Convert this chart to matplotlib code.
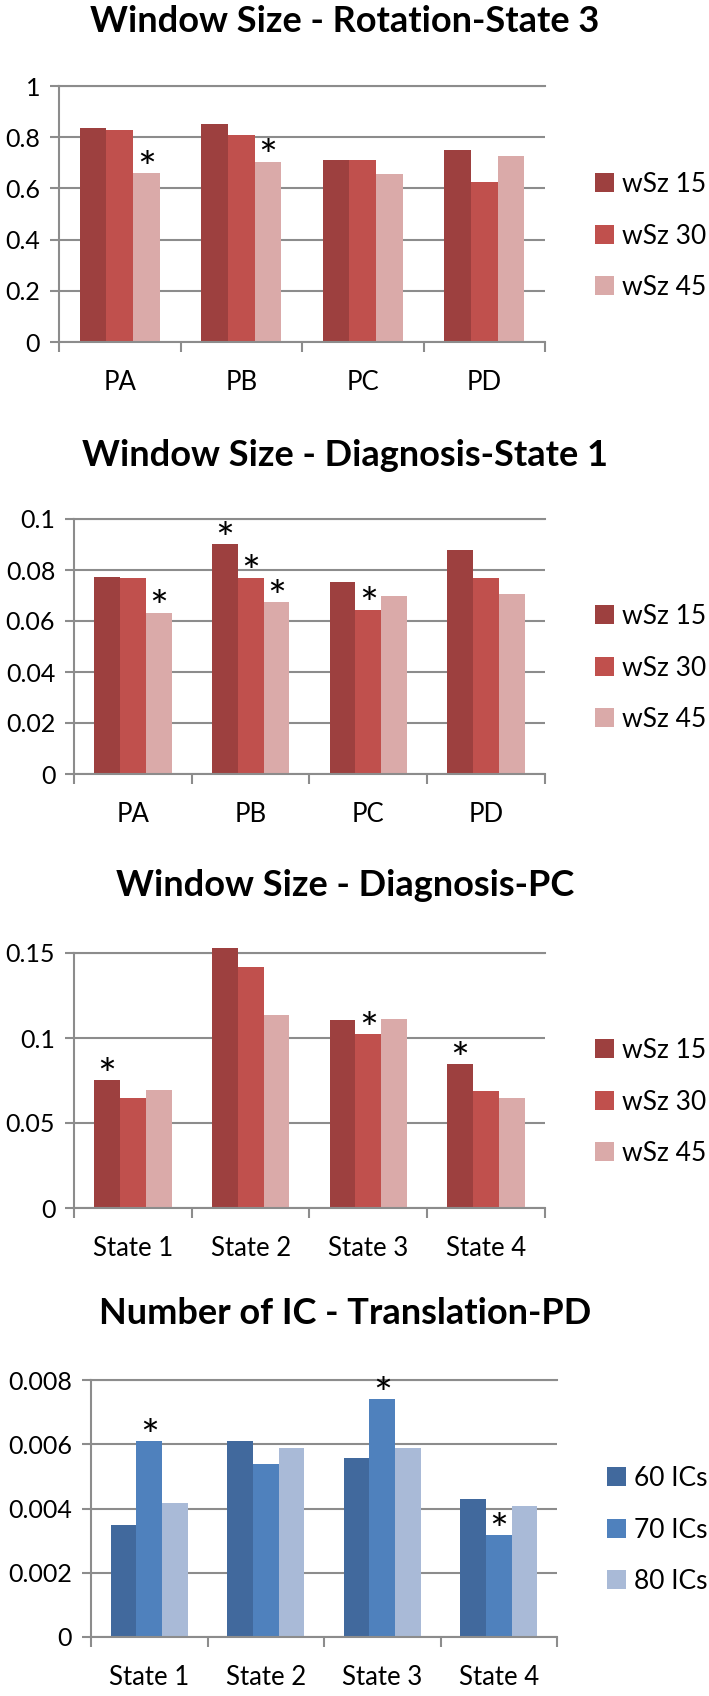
import matplotlib
matplotlib.use('Agg')
import matplotlib.pyplot as plt
from matplotlib.ticker import FixedLocator, FixedFormatter, NullFormatter

plt.rcParams['font.family'] = ['Lato', 'DejaVu Sans']

# ---------------- data ----------------
cats_p = ['PA', 'PB', 'PC', 'PD']
cats_s = ['State 1', 'State 2', 'State 3', 'State 4']
wsz_labels = ['wSz 15', 'wSz 30', 'wSz 45']
ic_labels = ['60 ICs', '70 ICs', '80 ICs']

title1 = 'Window Size - Rotation-State 3'
rot_s3_w15 = [0.834, 0.851, 0.709, 0.750]
rot_s3_w30 = [0.829, 0.807, 0.711, 0.626]
rot_s3_w45 = [0.660, 0.705, 0.658, 0.725]
rot_s3_stars = [(0, 2), (1, 2)]          # (category index, series index)
yt1 = [0, 0.2, 0.4, 0.6, 0.8, 1.0]
yl1 = ['0', '0.2', '0.4', '0.6', '0.8', '1']

title2 = 'Window Size - Diagnosis-State 1'
diag_s1_w15 = [0.0773, 0.0901, 0.0753, 0.0879]
diag_s1_w30 = [0.0770, 0.0770, 0.0645, 0.0769]
diag_s1_w45 = [0.0633, 0.0675, 0.0697, 0.0705]
diag_s1_stars = [(0, 2), (1, 0), (1, 1), (1, 2), (2, 1)]
yt2 = [0, 0.02, 0.04, 0.06, 0.08, 0.1]
yl2 = ['0', '0.02', '0.04', '0.06', '0.08', '0.1']

title3 = 'Window Size - Diagnosis-PC'
diag_pc_w15 = [0.0752, 0.1529, 0.1105, 0.0846]
diag_pc_w30 = [0.0645, 0.1418, 0.1021, 0.0688]
diag_pc_w45 = [0.0695, 0.1135, 0.1109, 0.0645]
diag_pc_stars = [(0, 0), (2, 1), (3, 0)]
yt3 = [0, 0.05, 0.1, 0.15]
yl3 = ['0', '0.05', '0.1', '0.15']

title4 = 'Number of IC - Translation-PD'
trans_pd_60 = [0.00349, 0.00609, 0.00558, 0.00429]
trans_pd_70 = [0.00609, 0.00540, 0.00740, 0.00318]
trans_pd_80 = [0.00418, 0.00589, 0.00589, 0.00408]
trans_pd_stars = [(0, 1), (2, 1), (3, 1)]
yt4 = [0, 0.002, 0.004, 0.006, 0.008]
yl4 = ['0', '0.002', '0.004', '0.006', '0.008']

reds = ['#9D403F', '#C0504D', '#DAAAA9']
blues = ['#41699D', '#4F81BD', '#A9BAD7']

# ---------------- layout (pixels) ----------------
W, H, DPI = 709, 1696, 100
GRID = '#8C8C8C'

panels = [
    dict(title=title1, cats=cats_p, series=[rot_s3_w15, rot_s3_w30, rot_s3_w45],
         labels=wsz_labels, colors=reds, stars=rot_s3_stars, yt=yt1, yl=yl1,
         box=(59, 545, 86, 342), title_y=22, leg_x=595, leg_y=236),
    dict(title=title2, cats=cats_p, series=[diag_s1_w15, diag_s1_w30, diag_s1_w45],
         labels=wsz_labels, colors=reds, stars=diag_s1_stars, yt=yt2, yl=yl2,
         box=(74, 545, 519, 774), title_y=455, leg_x=595, leg_y=668),
    dict(title=title3, cats=cats_s, series=[diag_pc_w15, diag_pc_w30, diag_pc_w45],
         labels=wsz_labels, colors=reds, stars=diag_pc_stars, yt=yt3, yl=yl3,
         box=(74, 545, 953, 1208), title_y=886, leg_x=595, leg_y=1102),
    dict(title=title4, cats=cats_s, series=[trans_pd_60, trans_pd_70, trans_pd_80],
         labels=ic_labels, colors=blues, stars=trans_pd_stars, yt=yt4, yl=yl4,
         box=(91, 557, 1380, 1637), title_y=1313, leg_x=607, leg_y=1530),
]

fig = plt.figure(figsize=(W / DPI, H / DPI), dpi=DPI)

bw = 0.22
for p in panels:
    l, r, t, b = p['box']
    ax = fig.add_axes([l / W, 1 - b / H, (r - l) / W, (b - t) / H])
    ncat = len(p['cats'])
    xs = list(range(ncat))
    handles = []
    for i, (vals, col) in enumerate(zip(p['series'], p['colors'])):
        off = (i - 1) * bw
        bars = ax.bar([x + off for x in xs], vals, width=bw, color=col,
                      linewidth=0, zorder=2, clip_on=False)
        handles.append(bars)
    for (ci, si) in p['stars']:
        v = p['series'][si][ci]
        ax.annotate('*', xy=(ci + (si - 1) * bw, v), xytext=(0, -7),
                    textcoords='offset points', ha='center', va='baseline',
                    fontsize=32, color='black', annotation_clip=False)
    ymax = p['yt'][-1]
    ax.set_xlim(-0.5, ncat - 0.5)
    ax.set_ylim(0, ymax)
    ax.yaxis.set_major_locator(FixedLocator(p['yt']))
    ax.yaxis.set_major_formatter(FixedFormatter(p['yl']))
    ax.xaxis.set_major_locator(FixedLocator([x - 0.5 for x in range(ncat + 1)]))
    ax.xaxis.set_major_formatter(NullFormatter())
    ax.xaxis.set_minor_locator(FixedLocator(xs))
    ax.xaxis.set_minor_formatter(FixedFormatter(p['cats']))
    ax.tick_params(axis='x', which='major', length=7, width=1.5, color=GRID, direction='out')
    ax.tick_params(axis='x', which='minor', length=0, pad=20, labelsize=18.5)
    ax.tick_params(axis='y', which='major', length=6.5, width=1.5, color=GRID,
                   direction='out', pad=7, labelsize=18)
    ax.grid(axis='y', color=GRID, linewidth=1.5, zorder=0.5)
    ax.set_axisbelow(True)
    ax.axhline(ymax, color=GRID, linewidth=1.5, zorder=0.5, clip_on=False)
    for s in ['top', 'right']:
        ax.spines[s].set_visible(False)
    for s in ['left', 'bottom']:
        ax.spines[s].set_color(GRID)
        ax.spines[s].set_linewidth(1.5)
    ax.patch.set_visible(False)
    fig.text(345 / W, 1 - p['title_y'] / H, p['title'], ha='center', va='center',
             fontsize=26, fontweight='bold')
    ax.legend(handles, p['labels'], loc='center left',
              bbox_to_anchor=(p['leg_x'] / W, 1 - p['leg_y'] / H),
              bbox_transform=fig.transFigure, frameon=False, fontsize=19,
              handlelength=0.72, handleheight=0.72, handletextpad=0.3,
              labelspacing=1.0, borderpad=0, borderaxespad=0)

fig.savefig('out.png', dpi=DPI)
